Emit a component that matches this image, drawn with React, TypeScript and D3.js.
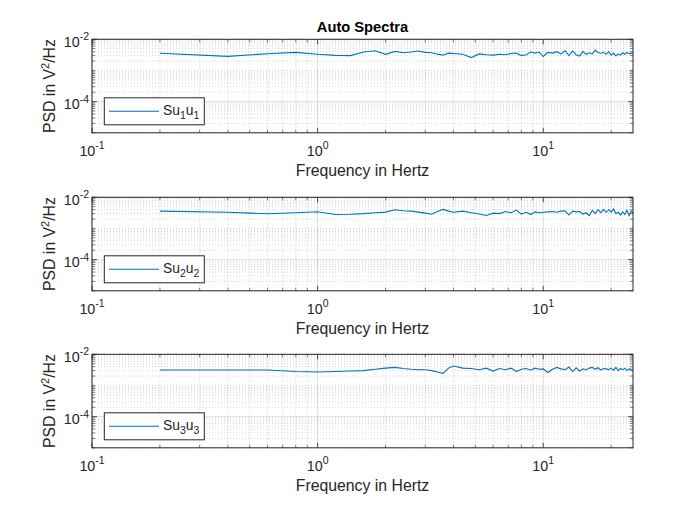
import React from "react";
import * as d3 from "d3";

// Frequencies in Hz, shared by all three auto spectra
const freqs = [
  0.2, 0.4, 0.6, 0.8, 1.0, 1.2, 1.4, 1.6, 1.8, 2.0, 2.2, 2.4, 2.6, 2.8, 3.0, 3.2, 3.4, 3.6, 3.8, 4.0,
  4.4, 4.8, 5.2, 5.6, 6.0, 6.4, 6.8, 7.2, 7.6, 8.0, 8.4, 8.8, 9.2, 9.6, 10.0,
  10.5, 11, 11.5, 12, 12.5, 13, 13.5, 14, 14.5, 15, 15.5, 16, 16.5, 17, 17.5, 18, 18.5, 19, 19.5,
  20, 20.5, 21, 21.5, 22, 22.5, 23, 23.5, 24, 24.5, 25,
];

// PSD values in units of 1e-3 V^2/Hz
const su1u1 = [
  3.55, 2.84, 3.45, 3.8, 3.3, 3.05, 3.0, 3.9, 4.3, 3.3, 4.1, 3.7, 3.9, 4.2, 3.8, 3.7, 3.3, 3.1, 3.6, 3.5,
  3.3, 2.6, 3.4, 3.2, 3.1, 3.3, 3.2, 3.5, 3.6, 3.0, 3.2, 3.9, 3.6, 3.9, 2.8,
  3.8, 3.6, 4.0, 3.4, 4.3, 3.0, 4.2, 3.2, 2.9, 4.1, 3.3, 3.7, 3.4, 4.5, 3.8, 3.5, 3.9, 3.3, 4.0,
  3.1, 3.6, 2.9, 3.4, 3.1, 3.7, 3.3, 3.8, 3.4, 3.6, 3.5,
];
const su2u2 = [
  3.6, 3.3, 2.95, 3.2, 3.45, 2.8, 2.85, 3.0, 3.2, 3.35, 4.0, 3.7, 3.6, 3.35, 3.1, 2.85, 3.5, 4.1, 3.6, 3.3,
  3.6, 3.2, 2.9, 2.6, 3.1, 3.0, 3.5, 3.2, 3.9, 2.9, 3.3, 2.8, 3.4, 3.2, 3.3,
  3.4, 3.5, 3.3, 3.6, 3.7, 2.7, 3.6, 3.4, 3.5, 2.9, 3.2, 2.6, 3.8, 3.0, 4.0, 3.2, 4.1, 3.3, 4.0,
  3.4, 4.2, 3.0, 3.3, 2.7, 3.4, 2.8, 3.9, 2.6, 3.6, 3.1,
];
const su3u3 = [
  3.15, 3.15, 3.15, 2.8, 2.7, 2.8, 2.9, 3.0, 3.3, 3.6, 3.8, 3.5, 3.3, 3.2, 3.2, 3.0, 2.7, 2.45, 3.6, 4.2,
  3.6, 3.5, 3.2, 3.6, 2.9, 3.5, 3.2, 3.6, 2.8, 3.3, 3.5, 3.1, 3.6, 3.3, 3.4,
  2.6, 3.3, 3.8, 3.4, 3.2, 3.9, 2.8, 3.7, 2.9, 3.4, 3.2, 3.6, 3.8, 3.3, 3.7, 3.1, 3.5, 3.4, 3.2,
  3.6, 3.1, 3.8, 3.0, 3.5, 3.2, 3.6, 3.0, 3.4, 3.3, 3.3,
];

const seriesList = [su1u1, su2u2, su3u3];
const legendIdx = ["1", "2", "3"];

const xTicks = [0.1, 1, 10];
const xTickExp = ["-1", "0", "1"];
const yTicks = [1e-4, 1e-2];
const yTickExp = ["-4", "-2"];

const W = 700;
const H = 525;
const left = 92;
const right = 633;
const panelTops = [39.3, 197.3, 354.3];
const panelH = 93.5;
const FONT = "'Liberation Sans', Arial, Helvetica, sans-serif";
const INK = "#262626";
const LINE = "#0072BD";

function minorTicks(lo: number, hi: number) {
  const out: number[] = [];
  for (let e = Math.floor(Math.log10(lo)); e <= Math.ceil(Math.log10(hi)); e++) {
    for (let m = 1; m <= 9; m++) {
      const v = m * Math.pow(10, e);
      if (v >= lo * 0.9999 && v <= hi * 1.0001) out.push(v);
    }
  }
  return out;
}

const Panel: React.FC<{ idx: number; top: number }> = ({ idx, top }) => {
  const bottom = top + panelH;
  const x = d3.scaleLog().domain([0.1, 25]).range([left, right]);
  const y = d3.scaleLog().domain([1e-5, 1e-2]).range([bottom, top]);
  const values = seriesList[idx];
  const line = d3
    .line<number>()
    .x((_, i) => x(freqs[i]))
    .y((d) => y(d * 1e-3));

  const xMinor = minorTicks(0.1, 25).filter((v) => !xTicks.includes(v));
  const yMinor = minorTicks(1e-5, 1e-2).filter((v) => !yTicks.some((t) => Math.abs(t - v) / t < 1e-6));
  const clipId = `clip${idx}`;
  const n = legendIdx[idx];
  const lgTop = bottom - 8 - 27;

  return (
    <g>
      <defs>
        <clipPath id={clipId}>
          <rect x={left} y={top} width={right - left} height={panelH} />
        </clipPath>
      </defs>
      <rect x={left} y={top} width={right - left} height={panelH} fill="#fff" />
      {/* minor grid */}
      {xMinor.map((v, i) => (
        <line key={`xm${i}`} x1={x(v)} x2={x(v)} y1={top} y2={bottom} stroke={INK} strokeOpacity={0.28} strokeDasharray="1,2" strokeWidth={0.7} />
      ))}
      {yMinor.map((v, i) => (
        <line key={`ym${i}`} x1={left} x2={right} y1={y(v)} y2={y(v)} stroke={INK} strokeOpacity={0.28} strokeDasharray="1,2" strokeWidth={0.7} />
      ))}
      {/* major grid */}
      {xTicks.map((v, i) => (
        <line key={`xg${i}`} x1={x(v)} x2={x(v)} y1={top} y2={bottom} stroke={INK} strokeOpacity={0.15} />
      ))}
      {yTicks.map((v, i) => (
        <line key={`yg${i}`} x1={left} x2={right} y1={y(v)} y2={y(v)} stroke={INK} strokeOpacity={0.15} />
      ))}
      <path d={line(values) || ""} fill="none" stroke={LINE} strokeWidth={1.1} clipPath={`url(#${clipId})`} />
      {/* tick marks on all four sides */}
      {xTicks.map((v, i) => (
        <g key={`xt${i}`} stroke={INK} strokeWidth={0.8}>
          <line x1={x(v)} x2={x(v)} y1={bottom} y2={bottom - 5} />
          <line x1={x(v)} x2={x(v)} y1={top} y2={top + 5} />
        </g>
      ))}
      {xMinor.map((v, i) => (
        <g key={`xmt${i}`} stroke={INK} strokeWidth={0.6}>
          <line x1={x(v)} x2={x(v)} y1={bottom} y2={bottom - 3} />
          <line x1={x(v)} x2={x(v)} y1={top} y2={top + 3} />
        </g>
      ))}
      {yTicks.map((v, i) => (
        <g key={`yt${i}`} stroke={INK} strokeWidth={0.8}>
          <line x1={left} x2={left + 5} y1={y(v)} y2={y(v)} />
          <line x1={right} x2={right - 5} y1={y(v)} y2={y(v)} />
        </g>
      ))}
      {yMinor.map((v, i) => (
        <g key={`ymt${i}`} stroke={INK} strokeWidth={0.6}>
          <line x1={left} x2={left + 3} y1={y(v)} y2={y(v)} />
          <line x1={right} x2={right - 3} y1={y(v)} y2={y(v)} />
        </g>
      ))}
      <rect x={left} y={top} width={right - left} height={panelH} fill="none" stroke={INK} strokeWidth={1} />
      {/* tick labels */}
      {xTicks.map((v, i) => (
        <text key={`xl${i}`} x={x(v)} y={bottom + 23} textAnchor="middle" fontSize={14.3} fill={INK} fontFamily={FONT}>
          10<tspan dy={-6.5} fontSize={10.5}>{xTickExp[i]}</tspan>
        </text>
      ))}
      {yTicks.map((v, i) => (
        <text key={`yl${i}`} x={left - 3} y={y(v) + 7.5} textAnchor="end" fontSize={14.3} fill={INK} fontFamily={FONT}>
          10<tspan dy={-6.5} fontSize={10.5}>{yTickExp[i]}</tspan>
        </text>
      ))}
      {/* axis labels */}
      <text x={(left + right) / 2} y={bottom + 43.5} textAnchor="middle" fontSize={15.8} fill={INK} fontFamily={FONT}>
        Frequency in Hertz
      </text>
      <text
        transform={`translate(55,${(top + bottom) / 2}) rotate(-90)`}
        textAnchor="middle"
        fontSize={15.8}
        fill={INK}
        fontFamily={FONT}
      >
        PSD in V<tspan dy={-6.5} fontSize={11}>2</tspan>
        <tspan dy={6.5}>/Hz</tspan>
      </text>
      {/* legend */}
      <rect x={104.3} y={lgTop} width={100} height={27} fill="#fff" stroke={INK} strokeWidth={1} />
      <line x1={109} x2={159} y1={lgTop + 13.5} y2={lgTop + 13.5} stroke={LINE} strokeWidth={1.1} />
      <text x={163} y={lgTop + 17} fontSize={13.8} fill={INK} fontFamily={FONT}>
        Su<tspan dy={4} fontSize={10.5}>{n}</tspan>
        <tspan dy={-4}>u</tspan>
        <tspan dy={4} fontSize={10.5}>{n}</tspan>
      </text>
    </g>
  );
};

export default function App() {
  return (
    <svg
      width={W}
      height={H}
      viewBox={`0 0 ${W} ${H}`}
      style={{ position: "absolute", left: 0, top: 0, background: "#fff" }}
    >
      <rect width={W} height={H} fill="#fff" />
      <text
        x={(left + right) / 2}
        y={32}
        textAnchor="middle"
        fontSize={14.7}
        fontWeight="bold"
        fill="#000"
        fontFamily={FONT}
      >
        Auto Spectra
      </text>
      {panelTops.map((t, i) => (
        <Panel key={i} idx={i} top={t} />
      ))}
    </svg>
  );
}
